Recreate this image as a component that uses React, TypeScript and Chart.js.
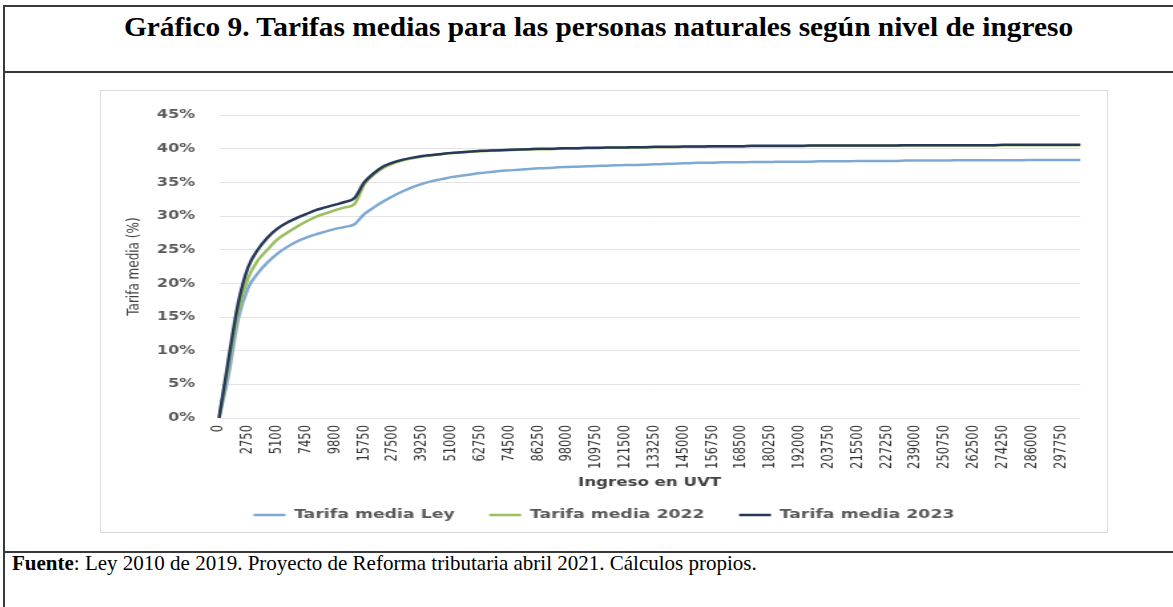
import { useEffect, useRef } from "react";
import { Chart, registerables } from "chart.js";

Chart.register(...registerables);

// Tick labels of the income axis (Ingreso en UVT), one every 3 sample points
const xTickLabels = [
  "0", "2750", "5100", "7450", "9800", "15750", "27500", "39250", "51000", "62750",
  "74500", "86250", "98000", "109750", "121500", "133250", "145000", "156750", "168500", "180250",
  "192000", "203750", "215500", "227250", "239000", "250750", "262500", "274250", "286000", "297750",
];
const STEPS_PER_LABEL = 3;
const POINT_COUNT = 90;

const seriesNames = ["Tarifa media Ley", "Tarifa media 2022", "Tarifa media 2023"];

// Tarifa media (%), one value per sample point
const tarifaLey = [
  0, 6.5, 14.8, 19.3, 21.5, 23.1, 24.4, 25.4, 26.2, 26.8,
  27.3, 27.7, 28.1, 28.4, 28.8, 30.3, 31.3, 32.2, 33.0, 33.7,
  34.3, 34.8, 35.2, 35.5, 35.8, 36.0, 36.2, 36.4, 36.55, 36.7,
  36.8, 36.9, 37.0, 37.1, 37.15, 37.25, 37.3, 37.35, 37.4, 37.45,
  37.5, 37.55, 37.6, 37.6, 37.65, 37.7, 37.75, 37.8, 37.85, 37.9,
  37.95, 37.95, 38.0, 38.0, 38.0, 38.05, 38.05, 38.05, 38.1, 38.1,
  38.1, 38.1, 38.15, 38.15, 38.15, 38.15, 38.2, 38.2, 38.2, 38.2,
  38.2, 38.25, 38.25, 38.25, 38.25, 38.25, 38.3, 38.3, 38.3, 38.3,
  38.3, 38.3, 38.3, 38.3, 38.35, 38.35, 38.35, 38.35, 38.35, 38.35,
];
const tarifa2022 = [
  0, 8.0, 16.0, 20.8, 23.4, 25.0, 26.5, 27.5, 28.4, 29.2,
  29.9, 30.4, 30.9, 31.3, 31.8, 34.7, 36.2, 37.2, 37.85, 38.3,
  38.6, 38.85, 39.05, 39.2, 39.35, 39.45, 39.55, 39.65, 39.7, 39.75,
  39.8, 39.85, 39.9, 39.95, 39.95, 40.0, 40.05, 40.05, 40.1, 40.1,
  40.15, 40.15, 40.15, 40.2, 40.2, 40.25, 40.25, 40.25, 40.3, 40.3,
  40.3, 40.35, 40.35, 40.35, 40.35, 40.4, 40.4, 40.4, 40.4, 40.4,
  40.4, 40.45, 40.45, 40.45, 40.45, 40.45, 40.45, 40.45, 40.45, 40.45,
  40.45, 40.5, 40.5, 40.5, 40.5, 40.5, 40.5, 40.5, 40.5, 40.5,
  40.5, 40.55, 40.55, 40.55, 40.55, 40.55, 40.55, 40.55, 40.55, 40.55,
];
const tarifa2023 = [
  0, 8.9, 17.2, 22.4, 25.0, 26.8, 28.1, 29.0, 29.7, 30.3,
  30.9, 31.3, 31.7, 32.1, 32.7, 35.0, 36.4, 37.4, 38.0, 38.4,
  38.7, 38.95, 39.1, 39.25, 39.4, 39.5, 39.6, 39.7, 39.75, 39.8,
  39.85, 39.9, 39.95, 40.0, 40.0, 40.05, 40.1, 40.1, 40.15, 40.15,
  40.2, 40.2, 40.2, 40.25, 40.25, 40.3, 40.3, 40.3, 40.35, 40.35,
  40.35, 40.4, 40.4, 40.4, 40.4, 40.45, 40.45, 40.45, 40.45, 40.45,
  40.45, 40.5, 40.5, 40.5, 40.5, 40.5, 40.5, 40.5, 40.5, 40.5,
  40.5, 40.55, 40.55, 40.55, 40.55, 40.55, 40.55, 40.55, 40.55, 40.55,
  40.55, 40.6, 40.6, 40.6, 40.6, 40.6, 40.6, 40.6, 40.6, 40.6,
];

const Y_MAX = 45;
const Y_STEP = 5;

const colors = ["#7ea9d3", "#9bbf5f", "#27395a"];

// Canvas is drawn narrower and stretched horizontally, like the original picture
const DISPLAY_W = 1008;
const DISPLAY_H = 443;
const INTERNAL_W = 758;

export default function App() {
  const ref = useRef<HTMLCanvasElement | null>(null);

  useEffect(() => {
    const canvas = ref.current;
    if (!canvas) return;
    const categories = Array.from({ length: POINT_COUNT }, (_, k) =>
      k % STEPS_PER_LABEL === 0 && k / STEPS_PER_LABEL < xTickLabels.length
        ? xTickLabels[k / STEPS_PER_LABEL]
        : ""
    );
    const seriesValues = [tarifaLey, tarifa2022, tarifa2023];
    const drawOrder = [2, 1, 0];
    const chart = new Chart(canvas, {
      type: "line",
      data: {
        labels: categories,
        datasets: seriesNames.map((name, i) => ({
          label: name,
          data: seriesValues[i],
          borderColor: colors[i],
          backgroundColor: colors[i],
          borderWidth: 2.5,
          pointRadius: 0,
          pointHoverRadius: 0,
          pointBorderWidth: 2.5,
          pointBorderColor: colors[i],
          pointBackgroundColor: colors[i],
          cubicInterpolationMode: "monotone" as const,
          order: drawOrder[i],
        })),
      },
      options: {
        responsive: false,
        animation: false,
        devicePixelRatio: 1,
        layout: { padding: { left: 12, right: 12.1, top: 13, bottom: 1.5 } },
        plugins: {
          tooltip: { enabled: false },
          legend: {
            position: "bottom",
            labels: {
              usePointStyle: true,
              pointStyle: "line",
              pointStyleWidth: 24,
              padding: 26,
              color: "#595959",
              font: { family: "DejaVu Sans", size: 13, weight: "bold" },
              sort: (a: any, b: any) => a.datasetIndex - b.datasetIndex,
            },
          },
        },
        scales: {
          x: {
            type: "category",
            offset: false,
            grid: { display: false, drawTicks: false },
            border: { display: false },
            ticks: {
              autoSkip: false,
              minRotation: 90,
              maxRotation: 90,
              padding: 7,
              color: "#333333",
              font: { family: "DejaVu Sans", size: 11.5 },
            },
            title: {
              display: true,
              text: "Ingreso en UVT",
              color: "#404040",
              font: { family: "DejaVu Sans", size: 12.5, weight: "bold" },
              padding: { top: 0, bottom: -8 },
            },
            afterFit: (scale: any) => {
              scale.height = 64.5;
            },
          },
          y: {
            min: 0,
            max: Y_MAX,
            grid: { color: "#e4e4e4", lineWidth: 1, drawTicks: false },
            border: { display: false },
            ticks: {
              stepSize: Y_STEP,
              padding: 18,
              color: "#595959",
              font: { family: "DejaVu Sans", size: 12, weight: "bold" },
              callback: (v: any) => `${v}%`,
            },
            title: {
              display: true,
              text: "Tarifa media (%)",
              color: "#404040",
              font: { family: "DejaVu Sans", size: 12 },
              padding: { top: 7.1, bottom: 0 },
            },
            afterFit: (scale: any) => {
              scale.width = 77.5;
            },
          },
        },
      },
    } as any);
    return () => chart.destroy();
  }, []);

  const line = (left: number, top: number, width: number, height: number) => (
    <div
      style={{ position: "absolute", left, top, width, height, background: "#3a3a3a" }}
    />
  );

  return (
    <div
      style={{
        position: "absolute",
        left: 0,
        top: 0,
        width: 1173,
        height: 607,
        background: "#ffffff",
        overflow: "hidden",
      }}
    >
      {line(3, 5, 1170, 2)}
      {line(3, 5, 2, 602)}
      {line(3, 71, 1170, 2)}
      {line(3, 551, 1170, 2)}
      <div
        style={{
          position: "absolute",
          left: 0,
          top: 12.5,
          width: 1197,
          textAlign: "center",
          fontFamily: "'Liberation Serif', 'Times New Roman', serif",
          fontWeight: "bold",
          fontSize: 28,
          lineHeight: "28px",
          color: "#000",
          whiteSpace: "nowrap",
          transform: "scaleX(1.049)",
        }}
      >
        Gráfico 9. Tarifas medias para las personas naturales según nivel de ingreso
      </div>
      <div
        style={{
          position: "absolute",
          left: 100,
          top: 90,
          width: DISPLAY_W,
          height: DISPLAY_H,
          border: "1px solid #dcdcdc",
          boxSizing: "border-box",
        }}
      />
      <canvas
        ref={ref}
        width={INTERNAL_W}
        height={DISPLAY_H}
        style={{
          position: "absolute",
          left: 100,
          top: 90,
          width: DISPLAY_W,
          height: DISPLAY_H,
        }}
      />
      <div
        style={{
          position: "absolute",
          left: 12,
          top: 552.5,
          fontFamily: "'Liberation Serif', 'Times New Roman', serif",
          fontSize: 21,
          lineHeight: "21px",
          color: "#000",
          whiteSpace: "nowrap",
        }}
      >
        <b>Fuente</b>: Ley 2010 de 2019. Proyecto de Reforma tributaria abril 2021. Cálculos propios.
      </div>
    </div>
  );
}
